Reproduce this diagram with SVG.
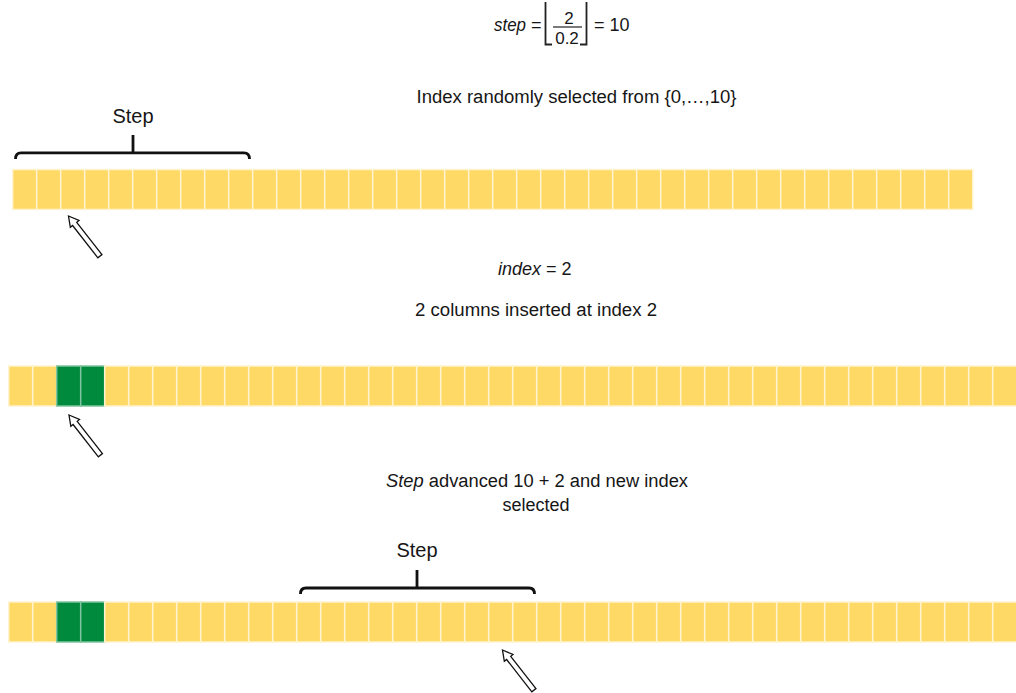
<svg xmlns="http://www.w3.org/2000/svg" width="1016" height="693" viewBox="0 0 1016 693">
  <defs>
    <style>
      text { font-family: "Liberation Sans", Arial, sans-serif; fill: #161616; }
      .t18 { font-size: 18px; }
      .t17 { font-size: 17px; }
      .t20 { font-size: 20px; }
      .it { font-style: italic; }
      .cell { fill: #FFD966; stroke: #FFF3D0; stroke-width: 1.5; }
      .ins { fill: #008A3E; stroke: #7FC49E; stroke-width: 1.5; }
      .brace { fill: none; stroke: #111; stroke-width: 2.8; stroke-linecap: butt; }
      .floor { fill: none; stroke: #222; stroke-width: 1.8; }
      .ptr { fill: #fff; stroke: #111; stroke-width: 1.3; stroke-linejoin: miter; }
    </style>
    <!-- hollow pointer arrow, tip at origin, body along +y -->
    <polygon id="pointer" class="ptr" points="0,0 5.5,10 2.6,10 2.6,51 -2.6,51 -2.6,10 -5.5,10"/>
    <rect id="c" class="cell" width="24" height="40"/>
    <rect id="g" class="ins" width="24" height="40"/>
  </defs>

  <!-- formula -->
  <g id="formula">
    <text class="t18 it" x="494" y="31" textLength="32" lengthAdjust="spacingAndGlyphs">step</text>
    <text class="t18" x="531" y="31">=</text>
    <path class="floor" d="M552,44.5 H545.5 V2 M580,44.5 H586.5 V2"/>
    <text class="t17" x="569" y="24" text-anchor="middle">2</text>
    <line x1="553" y1="27" x2="582" y2="27" stroke="#222" stroke-width="1.2"/>
    <text class="t17" x="567" y="44" text-anchor="middle">0.2</text>
    <text class="t18" x="594" y="31">= 10</text>
  </g>

  <g id="caption-1">
    <text class="t18" x="416.5" y="103" textLength="320" lengthAdjust="spacingAndGlyphs">Index randomly selected from {0,…,10}</text>
  </g>

  <!-- row 1: original columns -->
  <g id="row-1">
    <use href="#c" x="12.7" y="169.5"/><use href="#c" x="36.7" y="169.5"/><use href="#c" x="60.7" y="169.5"/><use href="#c" x="84.7" y="169.5"/>
    <use href="#c" x="108.7" y="169.5"/><use href="#c" x="132.7" y="169.5"/><use href="#c" x="156.7" y="169.5"/><use href="#c" x="180.7" y="169.5"/>
    <use href="#c" x="204.7" y="169.5"/><use href="#c" x="228.7" y="169.5"/><use href="#c" x="252.7" y="169.5"/><use href="#c" x="276.7" y="169.5"/>
    <use href="#c" x="300.7" y="169.5"/><use href="#c" x="324.7" y="169.5"/><use href="#c" x="348.7" y="169.5"/><use href="#c" x="372.7" y="169.5"/>
    <use href="#c" x="396.7" y="169.5"/><use href="#c" x="420.7" y="169.5"/><use href="#c" x="444.7" y="169.5"/><use href="#c" x="468.7" y="169.5"/>
    <use href="#c" x="492.7" y="169.5"/><use href="#c" x="516.7" y="169.5"/><use href="#c" x="540.7" y="169.5"/><use href="#c" x="564.7" y="169.5"/>
    <use href="#c" x="588.7" y="169.5"/><use href="#c" x="612.7" y="169.5"/><use href="#c" x="636.7" y="169.5"/><use href="#c" x="660.7" y="169.5"/>
    <use href="#c" x="684.7" y="169.5"/><use href="#c" x="708.7" y="169.5"/><use href="#c" x="732.7" y="169.5"/><use href="#c" x="756.7" y="169.5"/>
    <use href="#c" x="780.7" y="169.5"/><use href="#c" x="804.7" y="169.5"/><use href="#c" x="828.7" y="169.5"/><use href="#c" x="852.7" y="169.5"/>
    <use href="#c" x="876.7" y="169.5"/><use href="#c" x="900.7" y="169.5"/><use href="#c" x="924.7" y="169.5"/><use href="#c" x="948.7" y="169.5"/>
  </g>

  <g id="brace-1">
    <path class="brace" d="M15.5,159 Q15.5,152.8 21,152.8 L244,152.8 Q249.5,152.8 249.5,159 M133,135 V152.8"/>
    <text class="t20" x="133" y="123" text-anchor="middle">Step</text>
  </g>

  <g id="caption-2">
    <text class="t18" x="498" y="275"><tspan class="it">index</tspan> = 2</text>
    <text class="t18" x="415" y="315.5" textLength="242" lengthAdjust="spacingAndGlyphs">2 columns inserted at index 2</text>
  </g>

  <!-- row 2: two inserted columns -->
  <g id="row-2">
    <use href="#c" x="8.7" y="366"/><use href="#c" x="32.7" y="366"/><use href="#g" x="56.7" y="366"/><use href="#g" x="80.7" y="366"/>
    <use href="#c" x="104.7" y="366"/><use href="#c" x="128.7" y="366"/><use href="#c" x="152.7" y="366"/><use href="#c" x="176.7" y="366"/>
    <use href="#c" x="200.7" y="366"/><use href="#c" x="224.7" y="366"/><use href="#c" x="248.7" y="366"/><use href="#c" x="272.7" y="366"/>
    <use href="#c" x="296.7" y="366"/><use href="#c" x="320.7" y="366"/><use href="#c" x="344.7" y="366"/><use href="#c" x="368.7" y="366"/>
    <use href="#c" x="392.7" y="366"/><use href="#c" x="416.7" y="366"/><use href="#c" x="440.7" y="366"/><use href="#c" x="464.7" y="366"/>
    <use href="#c" x="488.7" y="366"/><use href="#c" x="512.7" y="366"/><use href="#c" x="536.7" y="366"/><use href="#c" x="560.7" y="366"/>
    <use href="#c" x="584.7" y="366"/><use href="#c" x="608.7" y="366"/><use href="#c" x="632.7" y="366"/><use href="#c" x="656.7" y="366"/>
    <use href="#c" x="680.7" y="366"/><use href="#c" x="704.7" y="366"/><use href="#c" x="728.7" y="366"/><use href="#c" x="752.7" y="366"/>
    <use href="#c" x="776.7" y="366"/><use href="#c" x="800.7" y="366"/><use href="#c" x="824.7" y="366"/><use href="#c" x="848.7" y="366"/>
    <use href="#c" x="872.7" y="366"/><use href="#c" x="896.7" y="366"/><use href="#c" x="920.7" y="366"/><use href="#c" x="944.7" y="366"/>
    <use href="#c" x="968.7" y="366"/><use href="#c" x="992.7" y="366"/>
  </g>

  <g id="caption-3">
    <text class="t18" x="386" y="487" textLength="302" lengthAdjust="spacingAndGlyphs"><tspan class="it">Step</tspan> advanced 10 + 2 and new index</text>
    <text class="t18" x="536" y="511" text-anchor="middle">selected</text>
  </g>

  <!-- row 3: next step window -->
  <g id="row-3">
    <use href="#c" x="8.7" y="602"/><use href="#c" x="32.7" y="602"/><use href="#g" x="56.7" y="602"/><use href="#g" x="80.7" y="602"/>
    <use href="#c" x="104.7" y="602"/><use href="#c" x="128.7" y="602"/><use href="#c" x="152.7" y="602"/><use href="#c" x="176.7" y="602"/>
    <use href="#c" x="200.7" y="602"/><use href="#c" x="224.7" y="602"/><use href="#c" x="248.7" y="602"/><use href="#c" x="272.7" y="602"/>
    <use href="#c" x="296.7" y="602"/><use href="#c" x="320.7" y="602"/><use href="#c" x="344.7" y="602"/><use href="#c" x="368.7" y="602"/>
    <use href="#c" x="392.7" y="602"/><use href="#c" x="416.7" y="602"/><use href="#c" x="440.7" y="602"/><use href="#c" x="464.7" y="602"/>
    <use href="#c" x="488.7" y="602"/><use href="#c" x="512.7" y="602"/><use href="#c" x="536.7" y="602"/><use href="#c" x="560.7" y="602"/>
    <use href="#c" x="584.7" y="602"/><use href="#c" x="608.7" y="602"/><use href="#c" x="632.7" y="602"/><use href="#c" x="656.7" y="602"/>
    <use href="#c" x="680.7" y="602"/><use href="#c" x="704.7" y="602"/><use href="#c" x="728.7" y="602"/><use href="#c" x="752.7" y="602"/>
    <use href="#c" x="776.7" y="602"/><use href="#c" x="800.7" y="602"/><use href="#c" x="824.7" y="602"/><use href="#c" x="848.7" y="602"/>
    <use href="#c" x="872.7" y="602"/><use href="#c" x="896.7" y="602"/><use href="#c" x="920.7" y="602"/><use href="#c" x="944.7" y="602"/>
    <use href="#c" x="968.7" y="602"/><use href="#c" x="992.7" y="602"/>
  </g>

  <g id="brace-2">
    <path class="brace" d="M300.5,594 Q300.5,588 306,588 L529,588 Q534.5,588 534.5,594 M417,570 V588"/>
    <text class="t20" x="417" y="557" text-anchor="middle">Step</text>
  </g>

  <!-- index pointers -->
  <g id="pointers">
    <use href="#pointer" transform="translate(68.5,216) rotate(-38)"/>
    <use href="#pointer" transform="translate(69,415) rotate(-38)"/>
    <use href="#pointer" transform="translate(502.5,650) rotate(-38)"/>
  </g>
</svg>
